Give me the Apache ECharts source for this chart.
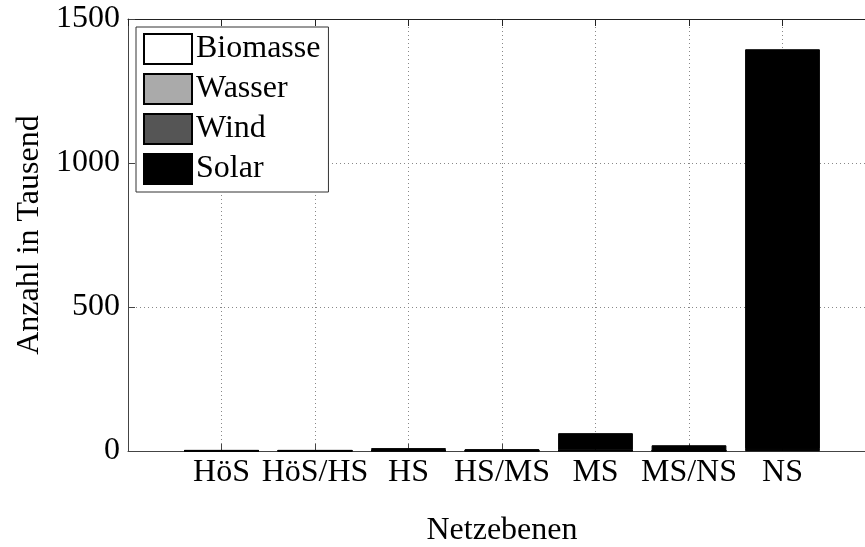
<!DOCTYPE html>
<html>
<head>
<meta charset="utf-8">
<script src="https://cdn.jsdelivr.net/npm/echarts@6/dist/echarts.min.js"></script>
<style>
  html, body { margin: 0; padding: 0; background: #fff; }
  #chart { width: 865px; height: 547px; }
</style>
</head>
<body>
<div id="chart"></div>
<script>
// Grid levels (Netzebenen) and installed plants per energy source, in thousands
const categories = ['HöS', 'HöS/HS', 'HS', 'HS/MS', 'MS', 'MS/NS', 'NS'];
const biomasse = [0.2, 0.2, 0.5, 0.3, 1.0, 0.5, 2];
const wasser   = [0.5, 0.3, 1.0, 0.5, 0.5, 0.5, 4];
const wind     = [0.3, 0.5, 2.0, 1.0, 1.0, 0.5, 1];
const solar    = [2.0, 2.0, 6.5, 4.5, 59.5, 18.5, 1388];
const yTicks   = [0, 500, 1000, 1500];

const seriesDefs = [
  { name: 'Biomasse', values: biomasse, color: '#ffffff' },
  { name: 'Wasser',   values: wasser,   color: '#aaaaaa' },
  { name: 'Wind',     values: wind,     color: '#555555' },
  { name: 'Solar',    values: solar,    color: '#000000' }
];

// The x axis runs from 0 to 8 with the levels on positions 1..7;
// the right part of the frame lies beyond the visible canvas
const axisCats = [''].concat(categories, ['']);
const pad = v => [null].concat(v, [null]);

const FONT = 'Liberation Serif';
const FS = 32;
const axisColor = '#444';

const chart = echarts.init(document.getElementById('chart'), null, { renderer: 'canvas' });

chart.setOption({
  backgroundColor: '#fff',
  animation: false,
  textStyle: { fontFamily: FONT, color: '#000' },
  grid: { left: 128, top: 19, width: 748, height: 432, outerBoundsMode: 'none', containLabel: false },
  legend: {
    orient: 'vertical',
    left: 136,
    top: 27,
    padding: [6, 8, 7, 7],
    itemWidth: 48,
    itemHeight: 30,
    itemGap: 8,
    icon: 'rect',
    backgroundColor: '#fff',
    borderColor: '#333',
    borderWidth: 1,
    borderRadius: 0,
    itemStyle: { borderColor: '#000', borderWidth: 2 },
    textStyle: { fontFamily: FONT, fontSize: FS, color: '#000', padding: [0, 0, 0, -1], lineHeight: 32 },
    data: seriesDefs.map(s => s.name)
  },
  xAxis: [
    {
      type: 'category',
      data: axisCats,
      boundaryGap: false,
      position: 'bottom',
      axisLine: { lineStyle: { color: axisColor, width: 1 } },
      axisTick: { inside: true, length: 7, lineStyle: { color: axisColor } },
      axisLabel: { fontFamily: FONT, fontSize: FS, color: '#000', margin: 6, interval: 0 },
      splitLine: { show: true, lineStyle: { color: '#888', type: [1, 3], width: 1 } },
      name: 'Netzebenen',
      nameLocation: 'middle',
      nameGap: 64,
      nameTextStyle: { fontFamily: FONT, fontSize: FS, color: '#000' }
    },
    {
      type: 'category',
      data: axisCats,
      boundaryGap: false,
      position: 'top',
      axisLine: { show: true, onZero: false, lineStyle: { color: '#222', width: 1 } },
      axisTick: { show: true, inside: true, length: 7, lineStyle: { color: '#222' } },
      axisLabel: { show: false },
      splitLine: { show: false }
    }
  ],
  yAxis: {
    type: 'value',
    min: yTicks[0],
    max: yTicks[yTicks.length - 1],
    interval: yTicks[1] - yTicks[0],
    axisLine: { show: true, lineStyle: { color: axisColor, width: 1 } },
    axisTick: { show: true, inside: true, length: 7, lineStyle: { color: axisColor } },
    axisLabel: { fontFamily: FONT, fontSize: FS, color: '#000', margin: 8, formatter: v => String(v) },
    splitLine: { show: true, lineStyle: { color: '#888', type: [1, 3], width: 1 } },
    name: 'Anzahl in Tausend',
    nameLocation: 'middle',
    nameGap: 64,
    nameTextStyle: { fontFamily: FONT, fontSize: FS, color: '#000' }
  },
  series: seriesDefs.map(s => ({
    name: s.name,
    type: 'bar',
    stack: 'total',
    barWidth: '80%',
    data: pad(s.values),
    itemStyle: { color: s.color, borderColor: '#000', borderWidth: 1 },
    emphasis: { disabled: true }
  }))
});
</script>
</body>
</html>
